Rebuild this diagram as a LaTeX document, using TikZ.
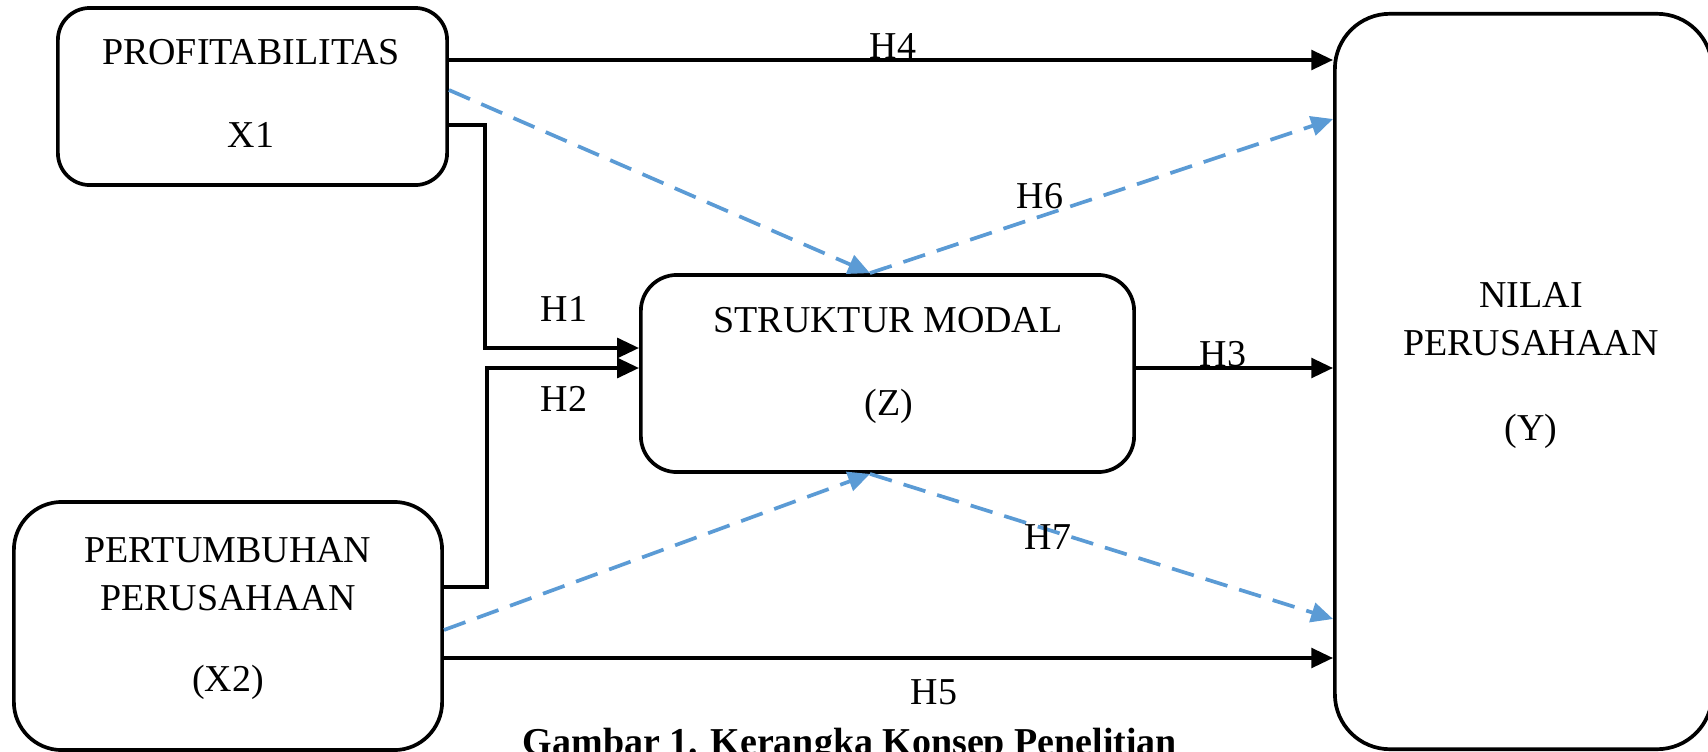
\documentclass[tikz,border=0pt]{standalone}
\usepackage{fontspec}
\setmainfont{Liberation Serif}
\usetikzlibrary{arrows.meta}
\definecolor{linkblue}{HTML}{5B9BD5}
\begin{document}
\begin{tikzpicture}[x=0.01cm,y=-0.01cm,
  varbox/.style={draw, line width=1.05pt, rounded corners=#1, inner sep=0pt},
  varbox/.default=0.32cm,
  lbl/.style={font=\fontsize{10.8}{12}\selectfont, inner sep=0pt},
  solidarr/.style={line width=1.05pt, -{Triangle[length=6.2pt,width=5.6pt]}},
  dasharr/.style={linkblue, line width=1.05pt, dash pattern=on 6.5pt off 3.5pt,
    -{Triangle[length=6.2pt,width=5.6pt]}},
  ]
\useasboundingbox (0,0) rectangle (1708,751);

% variable boxes
\node[varbox=0.32cm, minimum width=3.89cm, minimum height=1.77cm] (prof) at (252.5,96.5) {};
\node[varbox=0.36cm, minimum width=4.93cm, minimum height=1.97cm] (struk) at (887.5,373.5) {};
\node[varbox=0.48cm, minimum width=4.28cm, minimum height=2.48cm] (pert) at (228,626) {};
\node[varbox=0.55cm, minimum width=3.77cm, minimum height=7.35cm] (nilai) at (1523.5,381.5) {};

% box texts
\node[lbl] (profA) at (251,52) {PROFITABILITAS};
\node[lbl] (profB) at (251,135) {X1};
\node[lbl] (strukA) at (888,320) {STRUKTUR MODAL};
\node[lbl] (strukB) at (889,406) {(Z)};
\node[lbl] (pertA) at (228,550) {PERTUMBUHAN};
\node[lbl] (pertB) at (228,598) {PERUSAHAAN};
\node[lbl] (pertC) at (228,682) {(X2)};
\node[lbl] (nilaiA) at (1531,295) {NILAI};
\node[lbl] (nilaiB) at (1531,343) {PERUSAHAAN};
\node[lbl] (nilaiC) at (1531,431) {(Y)};

% bend points of the elbow connectors
\coordinate (bendA) at (485,348);
\coordinate (bendB) at (487,368);
\coordinate (topmid) at (870,0 |- struk.north);
\coordinate (botmid) at (870,0 |- struk.south);

% direct effects
\draw[solidarr] (prof.east |- 0,60) -- (nilai.west |- 0,60);
\draw[solidarr] (prof.east |- 0,125) -| (bendA) -- (struk.west |- bendA);
\draw[solidarr] (pert.east |- 0,587) -| (bendB) -- (struk.west |- bendB);
\draw[solidarr] (struk.east |- 0,368) -- (nilai.west |- 0,368);
\draw[solidarr] (pert.east |- 0,658) -- (nilai.west |- 0,658);

% mediated effects
\draw[dasharr] (prof.east |- 0,90) -- (topmid);
\draw[dasharr] (topmid) -- (nilai.west |- 0,119);
\draw[dasharr] (pert.east |- 0,630) -- (botmid);
\draw[dasharr] (botmid) -- (nilai.west |- 0,619);

% hypothesis labels
\node[lbl] (h4) at (893,46) {H4};
\node[lbl] (h6) at (1040,196) {H6};
\node[lbl] (h1) at (564,309) {H1};
\node[lbl] (h2) at (564,399) {H2};
\node[lbl] (h3) at (1223,354) {H3};
\node[lbl] (h7) at (1048,537) {H7};
\node[lbl] (h5) at (934,692) {H5};

% caption
\node[lbl, anchor=base, font=\fontsize{10.8}{12}\selectfont\bfseries] (caption) at (850,754)
  {Gambar 1. Kerangka Konsep Penelitian};
\end{tikzpicture}
\end{document}
